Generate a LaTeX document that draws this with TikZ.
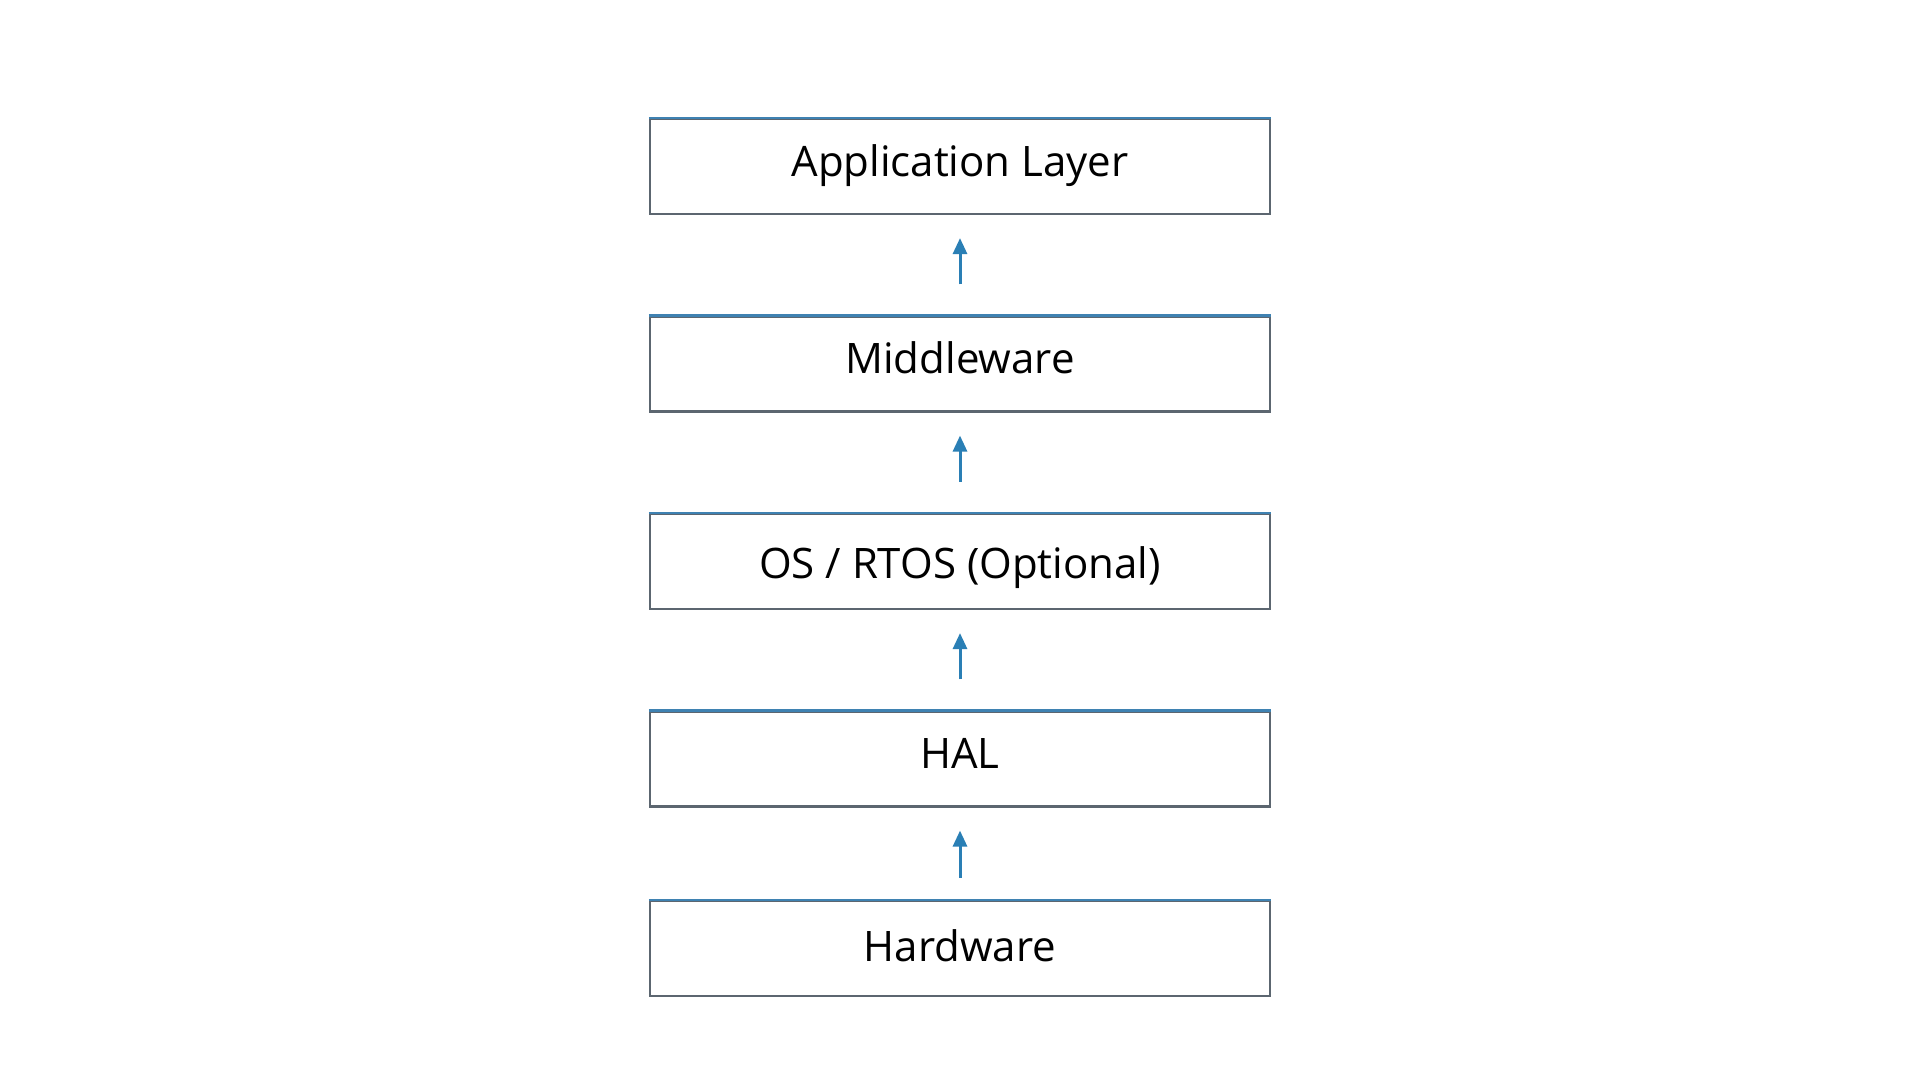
\documentclass[tikz,border=0pt]{standalone}
\usepackage{fontspec}
\setmainfont{Open Sans}
\usetikzlibrary{arrows.meta}
\definecolor{edgegray}{HTML}{5C6670}
\definecolor{edgeblue}{HTML}{3F82B2}
\definecolor{arrowblue}{HTML}{2A7FB5}
\tikzset{
  layer/.style={draw=edgegray, line width=2.2pt, fill=white, minimum width=620pt,
    minimum height=95pt, inner sep=0pt, text height=30pt, text depth=10pt,
    font=\fontsize{42}{50}\selectfont},
  topedge/.style={draw=edgeblue, line width=2.6pt},
  uparrow/.style={draw=arrowblue, line width=3pt,
    -{Triangle[length=16pt,width=14pt]}}
}
\begin{document}
\begin{tikzpicture}[x=1pt,y=1pt]
\useasboundingbox (0,0) rectangle (1920,1080);
\fill[white] (0,0) rectangle (1920,1080);
\node[layer] (app) at (960,913.5) {Application Layer};
\node[layer] (mid) at (960,716) {Middleware};
\node[layer, text height=44pt] (os)  at (960,518.5) {OS / RTOS (Optional)};
\node[layer] (hal) at (960,321) {HAL};
\node[layer, text height=36pt] (hw)  at (960,131.5) {Hardware};
\foreach \n in {app,mid,os,hal,hw}{
  \draw[topedge] (\n.north west) -- (\n.north east);
}
\draw[uparrow, shorten <=31pt, shorten >=23pt] (mid.north) -- (app.south);
\draw[uparrow, shorten <=31pt, shorten >=23pt] (os.north) -- (mid.south);
\draw[uparrow, shorten <=31pt, shorten >=23pt] (hal.north) -- (os.south);
\draw[uparrow, shorten <=22pt, shorten >=23pt] (hw.north) -- (hal.south);
\end{tikzpicture}
\end{document}
